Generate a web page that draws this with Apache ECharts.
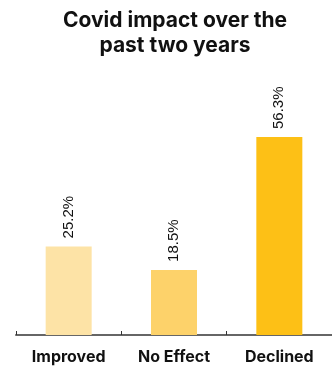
<!DOCTYPE html>
<html>
<head>
<meta charset="utf-8">
<script src="https://cdn.jsdelivr.net/npm/echarts@6/dist/echarts.min.js"></script>
<style>
  html, body { margin: 0; padding: 0; background: #fff; }
  #chart { width: 332px; height: 367px; }
</style>
</head>
<body>
<div id="chart"></div>
<script>
var categories = ['Improved', 'No Effect', 'Declined'];
var shares = [25.2, 18.5, 56.3];
var barColors = ['#FDE3A6', '#FDD26A', '#FDC016'];

var chart = echarts.init(document.getElementById('chart'));

chart.setOption({
  animation: false,
  title: {
    text: 'Covid impact over the\npast two years',
    left: 170,
    textAlign: 'center',
    top: 3,
    textStyle: {
      fontFamily: 'Inter',
      fontSize: 21,
      fontWeight: 'bold',
      color: '#111',
      lineHeight: 25
    }
  },
  grid: { left: 16, right: -4, top: 124, bottom: 32 },
  xAxis: {
    type: 'category',
    data: categories,
    axisLine: { lineStyle: { color: '#666', width: 2 } },
    axisTick: { show: true, inside: true, length: 4, lineStyle: { color: '#333' } },
    axisLabel: {
      margin: 14,
      fontFamily: 'Inter',
      fontSize: 16,
      fontWeight: 'bold',
      color: '#111'
    }
  },
  yAxis: {
    type: 'value',
    min: 0,
    max: 60,
    show: false
  },
  series: [{
    type: 'bar',
    barWidth: 46,
    data: shares.map(function (v, i) {
      return { value: v, itemStyle: { color: barColors[i] } };
    }),
    label: {
      show: true,
      position: 'top',
      rotate: 90,
      align: 'left',
      verticalAlign: 'middle',
      distance: 8,
      fontFamily: 'Liberation Sans',
      fontSize: 15,
      color: '#111',
      formatter: function (p) { return p.value.toFixed(1) + '%'; }
    }
  }]
});
</script>
</body>
</html>
